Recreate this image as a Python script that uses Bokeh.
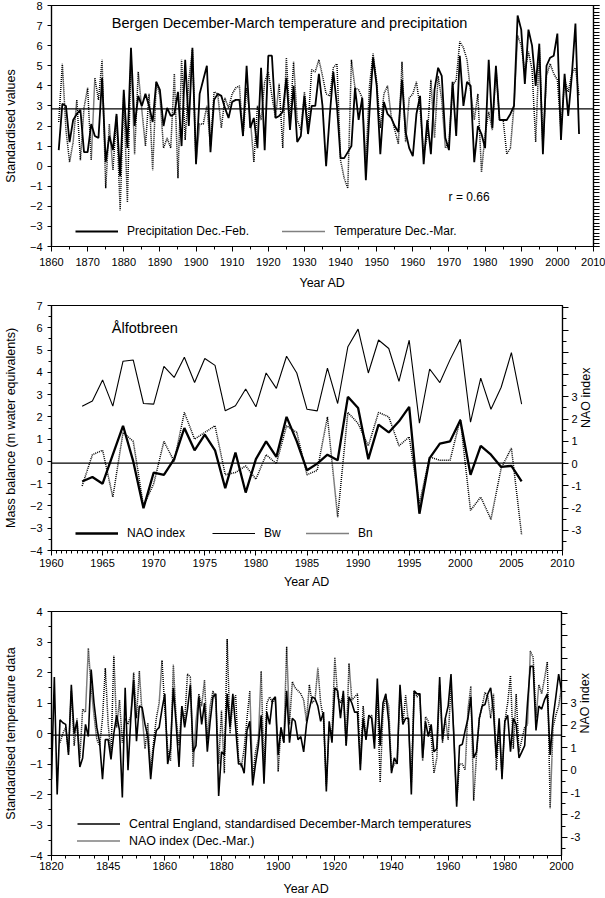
import math
from bokeh.plotting import figure
from bokeh.models import (Range1d, LinearAxis, FixedTicker, Span, Label, Legend,
                          LegendItem, CustomJSTickFormatter)
from bokeh.embed import file_html
from bokeh.resources import INLINE

FONT = "Liberation Sans"

# ---------------- Panel 1: Bergen ----------------
bergen_start = 1862
bergen_precip = [
    0.8, 3.1, 3.0, 1.2, 2.3, 2.6, 2.8, 0.7,
    0.7, 2.1, 1.5, 1.4, 4.4, 0.2, 1.5, 0.8, 2.6, -0.5,
    3.8, 0.9, 5.9, 2.0, 3.5, 3.0, 3.6, 3.0, 2.2, 4.2,
    3.8, 2.0, 2.9, 2.5, 2.6, 3.7, 1.0, 5.3, 2.0, 5.9,
    0.1, 3.6, 4.3, 5.0, 0.7, 3.3, 3.6, 3.5, 2.9, 2.4,
    3.2, 3.3, 3.3, 1.5, 5.0, 1.9, 2.4, 0.9, 4.9, 0.8,
    5.5, 5.5, 2.4, 2.5, 2.7, 4.4, 1.8, 4.0, 1.2, 1.5,
    3.5, 1.6, 3.0, 3.0, 4.6, 3.0, 0.0, 2.5, 4.7, 3.0,
    0.4, 0.4, 0.7, 1.0, 3.9, 2.3, 3.4, -0.7, 2.7, 5.4,
    4.0, 0.6, 3.2, 2.6, 2.4, 2.0, 1.7, 4.3, 1.7, 0.9,
    0.5, 2.6, 3.5, 0.1, 2.3, 0.6, 3.8, 4.9, 4.5, 1.4,
    0.8, 4.2, 1.5, 5.5, 3.0, 4.2, 4.0, 0.2, 2.0, 1.6,
    0.9, 5.3, 1.9, 5.0, 2.3, 2.3, 2.3, 2.6, 3.0, 7.5,
    6.8, 4.1, 6.8, 6.0, 4.0, 6.1, 0.6, 5.0, 5.4, 5.5,
    6.6, 1.3, 4.6, 2.5, 4.5, 7.1, 1.6,
]
bergen_temp = [
    2.2, 5.1, 1.8, 0.2, 1.2, 3.3, 0.3, 2.9,
    3.9, 0.3, 4.4, 3.3, 5.3, -1.1, 2.1, -0.2, 2.5, -2.2,
    3.6, -1.8, 5.5, 0.6, 4.7, 2.8, 1.0, 3.6, -0.2, 4.2,
    3.5, 0.9, 1.4, 0.9, 4.6, -0.6, 5.3, 1.3, 4.3, 5.8,
    0.2, 2.1, 2.1, 3.0, 1.0, 3.7, 3.6, 1.9, 3.4, 2.9,
    3.6, 3.9, 4.0, 1.5, 3.9, 2.4, 0.2, 3.0, 2.3, 4.2,
    4.7, 3.5, 2.4, 4.1, 0.9, 5.4, 2.2, 5.2, 2.3, 1.8,
    3.7, 2.0, 4.8, 4.7, 5.3, 4.5, 3.6, 3.5, 4.9, 5.1,
    0.3, -0.6, -1.1, 5.3, 3.9, 3.8, 3.4, 0.2, 4.0, 5.6,
    4.2, 1.9, 3.6, 4.0, 2.5, 1.8, 1.1, 5.2, 1.2, 3.4,
    3.6, 4.2, 2.9, 0.6, 1.5, 4.3, 1.4, 4.5, 3.3, 0.9,
    1.2, 4.0, 4.3, 6.2, 5.9, 5.3, 3.7, 2.3, 3.6, -0.3,
    1.6, 2.7, 1.8, 4.9, 2.3, 2.3, 0.6, 0.9, 3.0, 6.5,
    6.0, 4.7, 5.7, 4.8, 1.2, 5.9, 1.0, 4.5, 5.1, 4.6,
    4.3, 1.8, 4.3, 3.7, 4.6, 4.9, 3.5,
]
bergen_years = list(range(bergen_start, bergen_start + len(bergen_precip)))
bergen_ref_line = 2.85
p1_xticks = list(range(1860, 2011, 10))
p1_yticks = list(range(-4, 9))

# ---------------- Panel 2: Alfotbreen ----------------
alf_start = 1963
alf_nao = [
    -0.9, -0.7, -1.0, 0.3, 1.6, 0.0, -2.1, -0.5, -0.6, 0.1,
    1.5, 0.5, 1.2, 0.5, -1.2, 0.4, -1.4, 0.1, 0.9, 0.2,
    2.0, 0.9, -0.4, -0.1, 0.3, 0.05, 2.9, 2.4, 0.1, 1.65,
    1.3, 1.8, 2.45, -2.35, 0.15, 0.8, 0.9, 1.85, -0.6, 0.7,
    0.3, -0.25, -0.2, -0.9,
]
alf_bw = [
    2.48, 2.71, 3.66, 2.48, 4.5, 4.55, 2.6, 2.57, 4.27, 3.77,
    4.68, 3.54, 4.62, 4.31, 2.27, 2.5, 3.25, 2.45, 3.97, 3.28,
    4.72, 3.97, 2.34, 2.27, 4.19, 2.6, 5.15, 5.94, 3.97, 5.45,
    5.07, 3.59, 5.44, 1.72, 4.15, 3.54, 4.57, 5.48, 1.76, 3.74,
    2.34, 3.33, 4.88, 2.57,
]
alf_bn = [
    -1.1, 0.3, 0.5, -1.6, 1.3, 0.9, -2.0, -1.0, 0.9, 0.0,
    2.2, 1.0, 1.3, 1.6, -0.6, -0.5, -0.2, -0.8, 0.3, -0.1,
    1.6, 1.3, -0.6, -0.4, 2.0, -2.5, 2.2, 1.7, 0.7, 2.2,
    2.0, 0.7, 1.1, -1.9, 0.2, 0.05, 0.05, 1.9, -2.2, -1.6,
    -2.6, -0.3, 0.6, -3.3,
]
alf_years = list(range(alf_start, alf_start + len(alf_bw)))
alf_zero_line = -0.08
p2_xticks = list(range(1960, 2011, 5))
p2_yticks = list(range(-4, 8))

# ---------------- Panel 3: Central England ----------------
cet_start = 1820
cet_temp = [
    -1.5, 1.85, -2.0, 0.45, 0.35, 0.3, -0.7, 1.6, 0.0, 0.4,
    -1.1, -0.8, 0.3, -0.1, 2.1, 1.0, 0.2, -0.3, -1.5, -0.2,
    -0.2, -0.85, 0.0, 0.6, 0.1, -2.1, 1.5, -1.2, 0.5, 1.75,
    -0.25, 0.9, 0.85, 0.3, -0.1, -1.5, -0.5, 0.1, 0.2, 0.8,
    1.3, -1.0, -0.5, 1.5, 0.3, -1.1, 0.9, 0.2, 0.8, 1.6,
    -0.6, -0.4, 1.2, 0.3, 1.0, -0.6, 0.4, 1.2, 1.3, -2.05,
    -0.6, -0.7, 1.3, 0.2, 1.3, 0.2, -1.0, -1.0, -1.3, 0.1,
    0.4, -1.7, -1.0, -0.4, 0.6, -1.65, 0.7, 0.3, 1.1, 1.2,
    -0.7, 0.2, -0.3, 1.4, -0.3, 0.5, 0.4, -0.2, -0.1, -0.6,
    0.3, 0.8, 1.2, 1.15, 0.9, 0.4, 0.7, -1.9, 0.4, -0.3,
    1.5, 1.4, 0.5, 1.4, -0.4, 1.2, 1.0, 0.7, 0.7, -1.2,
    0.5, -0.2, 0.6, 0.5, -0.5, 1.8, -0.4, 1.0, 1.3, 0.4,
    -1.3, -0.8, -1.0, 1.6, 0.3, 0.5, 0.5, -2.0, 1.4, 1.3,
    1.3, -0.8, 0.4, -0.1, 0.3, -0.6, -0.5, 1.85, -0.2, 0.5,
    0.9, 1.95, -0.1, -2.4, -0.4, -0.35, 0.1, 0.5, 1.2, -0.8,
    -0.6, 0.5, 0.9, 0.95, 1.3, 1.5, 0.7, -0.8, 0.5, -1.5,
    0.4, 0.6, -0.6, 0.5, 0.3, -0.8, -0.6, -0.4, 1.0, 2.2,
    2.2, 0.1, 0.9, 0.8, 1.1, 1.3, -0.7, 0.5, 1.2, 1.95,
    1.4,
]
cet_years = list(range(cet_start, cet_start + len(cet_temp)))
nao_start = 1823
nao_index = [
    -0.3, 0.0, 0.2, -0.6, 1.4, -0.4, 0.5,
    -0.8, 0.8, 0.7, 2.8, 1.5, 0.6, -0.2, -0.4, 0.5, 2.15,
    0.3, -0.7, 2.55, 0.2, 1.1, -0.3, 0.5, 0.3, 0.6, 2.0,
    0.5, 2.05, 0.6, -0.5, 0.35, -1.2, -0.3, 0.5, 1.0, 2.4,
    0.8, -0.5, -0.9, 2.25, 0.5, -0.4, 0.9, 0.4, 1.95, 1.85,
    -1.1, 0.4, 1.3, 0.9, 1.75, -0.2, 0.9, 1.4, 1.1, -1.0,
    0.75, -1.3, 3.1, 0.0, 1.0, 1.25, -0.8, -1.1, -0.5, 0.5,
    1.4, -1.5, -0.6, -0.2, 2.05, -1.3, 1.0, 1.2, 1.0, 1.15,
    -1.25, 0.2, -0.3, 2.85, 0.3, 1.7, 1.5, 1.4, 1.3, 1.1,
    0.4, 1.6, 1.0, 1.1, 2.15, 1.0, 0.5, -1.7, 0.2, 0.0,
    2.5, 1.2, 1.0, 1.3, -0.4, 2.3, 1.1, 1.2, 1.3, -1.0,
    0.9, -0.2, 0.5, 0.6, -0.2, 1.3, -1.6, 0.7, 1.2, 0.9,
    -1.2, -1.0, -0.9, 1.4, 0.3, 1.25, 0.3, -1.6, 1.4, 1.2,
    1.3, -0.9, 0.55, 0.4, -0.1, -1.3, -0.8, 1.6, -0.3, 0.5,
    -0.2, 1.6, 0.0, -2.2, -1.0, -1.0, -1.2, 0.8, 1.55, -2.2,
    -0.7, 0.5, 0.9, 1.35, 1.2, 0.5, 1.3, -1.2, 0.2, -1.4,
    0.4, 1.0, 1.9, -0.5, 1.3, -0.6, -0.2, 0.2, 0.3, 2.7,
    2.5, 0.5, 1.6, 1.3, 1.8, 2.35, -2.45, 0.2, 0.6, 0.9,
    1.5,
]
nao_years = list(range(nao_start, nao_start + len(nao_index)))
cet_zero_line = -0.05
p3_xticks = [1820, 1840, 1860, 1880, 1900, 1920, 1940, 1960, 1980, 2000]
p3_xtick_labels = ["1820", "1845", "1860", "1880", "1900", "1920", "1940", "1960", "1980", "2000"]
p3_yticks = list(range(-4, 5))
nao_axis_ticks = list(range(-3, 8))

DOT = "1 1"
DOT_W = 1.5


def frange(a, b, step):
    n = int(round((b - a) / step))
    return [a + i * step for i in range(n + 1)]


def base_fig(height, xr, yr, mbl, mbr, mbt, mbb):
    p = figure(width=605, height=height, x_range=xr, y_range=yr,
               output_backend="svg", toolbar_location=None,
               min_border_left=mbl, min_border_right=mbr,
               min_border_top=mbt, min_border_bottom=mbb)
    p.grid.visible = False
    p.outline_line_color = "black"
    p.outline_line_width = 1.2
    p.background_fill_color = "white"
    p.border_fill_color = "white"
    return p


def style_axis(ax):
    ax.axis_line_color = "black"
    ax.axis_line_width = 1.2
    ax.major_tick_line_color = "black"
    ax.minor_tick_line_color = "black"
    ax.major_tick_in = 0
    ax.minor_tick_in = 0
    ax.major_label_text_font = FONT
    ax.major_label_text_font_size = "11px"
    ax.major_label_text_color = "black"
    ax.axis_label_text_font = FONT
    ax.axis_label_text_font_style = "normal"
    ax.axis_label_text_font_size = "12.5px"
    ax.axis_label_text_color = "black"
    ax.major_label_standoff = 2


def style_left(ax, label):
    style_axis(ax)
    ax.axis_label = label
    ax.major_tick_out = 4
    ax.minor_tick_out = 3
    ax.major_label_standoff = 5
    ax.axis_label_standoff = 9


def nao_right_axis():
    ax = LinearAxis(y_range_name="nao",
                    ticker=FixedTicker(ticks=nao_axis_ticks, minor_ticks=frange(-3.5, 7.0, 0.5)),
                    formatter=CustomJSTickFormatter(code="return tick > 3.5 ? '' : tick.toFixed(0)"))
    style_axis(ax)
    ax.major_tick_out = 6
    ax.minor_tick_out = 4
    ax.major_label_standoff = 3
    ax.axis_label = "NAO index"
    ax.axis_label_standoff = 2
    if "axis_label_orientation" in ax.properties():
        ax.axis_label_orientation = math.pi / 2
    return ax


def make_legend(items, loc, gh=20, size="12px"):
    leg = Legend(items=items, location=loc, orientation="vertical",
                 border_line_color=None, background_fill_alpha=0,
                 padding=0, margin=0, spacing=0, glyph_width=43,
                 glyph_height=gh, label_height=gh, label_standoff=9,
                 label_text_font=FONT, label_text_font_size=size,
                 label_text_color="black")
    return leg


def title_label(x, y, text, size, **kw):
    return Label(x=x, y=y, text=text, text_font=FONT, text_font_size=size,
                 text_color="black", text_baseline="middle", **kw)


# ================= Panel 1 =================
p1 = base_fig(292, Range1d(1860, 2010), Range1d(-4, 8), 43, 12, 5, 46)
for ax in p1.xaxis:
    style_axis(ax)
for ax in p1.yaxis:
    style_left(ax, "Standardised values")
p1.xaxis.ticker = FixedTicker(ticks=p1_xticks, minor_ticks=list(range(1860, 2011, 5)))
p1.xaxis.major_tick_out = 5
p1.xaxis.minor_tick_out = 3
p1.xaxis.major_label_standoff = 6
p1.xaxis.axis_label = "Year AD"
p1.xaxis.axis_label_standoff = 7
p1.yaxis.ticker = FixedTicker(ticks=p1_yticks, minor_ticks=[])
r_right1 = LinearAxis(ticker=FixedTicker(ticks=p1_yticks, minor_ticks=frange(-4, 8, 1 / 6)),
                      formatter=CustomJSTickFormatter(code="return ''"))
style_axis(r_right1)
r_right1.major_tick_out = 6
r_right1.minor_tick_out = 6
r_right1.major_label_standoff = 0
p1.add_layout(r_right1, "right")

r_prec = p1.line(bergen_years, bergen_precip, line_color="black", line_width=1.8)
r_temp = p1.line(bergen_years, bergen_temp, line_color="black", line_width=DOT_W, line_dash=DOT)
p1.add_layout(Span(location=bergen_ref_line, dimension="width", line_color="black", line_width=1.2))
p1.add_layout(title_label(1876.7, 7.15, "Bergen December-March temperature and precipitation", "14.5px"))
p1.add_layout(title_label(1969.9, -1.55, "r = 0.66", "12px"))
p1.add_layout(make_legend([LegendItem(label="Precipitation Dec.-Feb.", renderers=[r_prec])], (24, 5)))
p1.add_layout(make_legend([LegendItem(label="Temperature Dec.-Mar.", renderers=[r_temp])], (231, 5)))

# ================= Panel 2 =================
p2 = base_fig(303, Range1d(1960, 2010), Range1d(-4, 7), 41, 43, 13, 45)
p2.extra_y_ranges = {"nao": Range1d(-3.9, 7.1)}
for ax in p2.xaxis:
    style_axis(ax)
for ax in p2.yaxis:
    style_left(ax, "Mass balance (m water equivalents)")
p2.xaxis.ticker = FixedTicker(ticks=p2_xticks, minor_ticks=frange(1960, 2010, 0.5))
p2.xaxis.major_tick_out = 5
p2.xaxis.minor_tick_out = 3
p2.xaxis.major_label_standoff = 3
p2.xaxis.axis_label = "Year AD"
p2.xaxis.axis_label_standoff = 5
p2.yaxis.ticker = FixedTicker(ticks=p2_yticks, minor_ticks=frange(-4, 7, 0.5))
p2.add_layout(nao_right_axis(), "right")

r_bw = p2.line(alf_years, alf_bw, line_color="black", line_width=1.1)
r_nao2 = p2.line(alf_years, alf_nao, line_color="black", line_width=2.3)
r_bn = p2.line(alf_years, alf_bn, line_color="black", line_width=DOT_W, line_dash=DOT)
p2.add_layout(Span(location=alf_zero_line, dimension="width", line_color="black", line_width=1.2))
p2.add_layout(title_label(1965.9, 6.0, "Ålfotbreen", "14.5px"))
p2.add_layout(make_legend([LegendItem(label="NAO index", renderers=[r_nao2])], (24, 7)))
p2.add_layout(make_legend([LegendItem(label="Bw", renderers=[r_bw])], (161, 7)))
p2.add_layout(make_legend([LegendItem(label="Bn", renderers=[r_bn])], (255, 7)))

# ================= Panel 3 =================
p3 = base_fig(303, Range1d(1820, 2000), Range1d(-4, 4), 40, 44, 16, 43)
p3.extra_y_ranges = {"nao": Range1d(-3.81, 7.09)}
for ax in p3.xaxis:
    style_axis(ax)
for ax in p3.yaxis:
    style_left(ax, "Standardised temperature data")
p3.xaxis.ticker = FixedTicker(ticks=p3_xticks, minor_ticks=list(range(1820, 2001, 5)))
p3.xaxis.major_label_overrides = dict(zip(p3_xticks, p3_xtick_labels))
p3.xaxis.major_tick_out = 5
p3.xaxis.minor_tick_out = 3
p3.xaxis.major_label_standoff = 1
p3.xaxis.axis_label = "Year AD"
p3.xaxis.axis_label_standoff = 9
p3.yaxis.ticker = FixedTicker(ticks=p3_yticks, minor_ticks=frange(-4, 4, 0.5))
p3.add_layout(nao_right_axis(), "right")

r_cet = p3.line(cet_years, cet_temp, line_color="black", line_width=1.6)
r_nao3 = p3.line(nao_years, nao_index, line_color="black", line_width=DOT_W, line_dash=DOT)
p3.add_layout(Span(location=cet_zero_line, dimension="width", line_color="black", line_width=1.2))
p3.add_layout(make_legend([
    LegendItem(label="Central England, standardised December-March temperatures", renderers=[r_cet]),
    LegendItem(label="NAO index (Dec.-Mar.)", renderers=[r_nao3]),
], (26, 6), gh=17, size="12.4px"))

open("out.html", "w").write(file_html([p1, p2, p3], INLINE))
